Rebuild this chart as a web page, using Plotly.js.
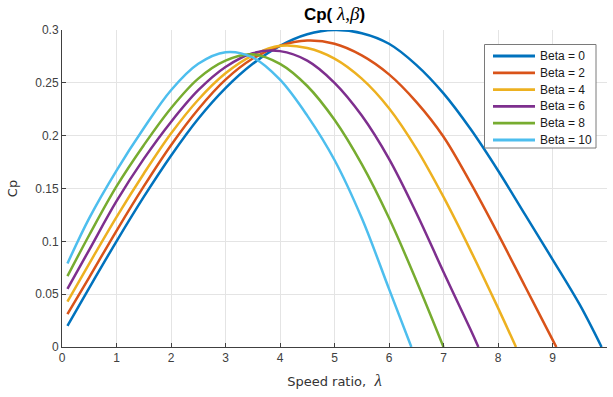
<!DOCTYPE html>
<html>
<head>
<meta charset="utf-8">
<script src="https://cdn.plot.ly/plotly-3.0.1.min.js"></script>
<style>
  html, body { margin: 0; padding: 0; background: #ffffff; }
  #chart { width: 613px; height: 397px; }
</style>
</head>
<body>
<div id="chart"></div>
<script>
// Power coefficient Cp versus tip speed ratio lambda, one curve per pitch angle beta
const seriesNames = ['Beta = 0', 'Beta = 2', 'Beta = 4', 'Beta = 6', 'Beta = 8', 'Beta = 10'];

const lambdaB0 = [0.1, 0.5, 1, 1.5, 2, 2.5, 3, 3.5, 4, 4.5, 5, 5.5, 6, 6.5, 7, 7.5, 8, 8.5, 9, 9.5, 9.9];
const cpB0     = [0.020, 0.056, 0.100, 0.142, 0.181, 0.216, 0.245, 0.268, 0.285, 0.296, 0.300, 0.297, 0.287, 0.267, 0.240, 0.206, 0.167, 0.125, 0.083, 0.040, 0];

const lambdaB2 = [0.1, 0.5, 1, 1.5, 2, 2.5, 3, 3.5, 4, 4.5, 5, 5.5, 6, 6.5, 7, 7.5, 8, 8.5, 9, 9.07];
const cpB2     = [0.031, 0.066, 0.110, 0.152, 0.191, 0.225, 0.253, 0.273, 0.285, 0.290, 0.287, 0.276, 0.258, 0.232, 0.199, 0.155, 0.107, 0.057, 0.007, 0];

const lambdaB4 = [0.1, 0.5, 1, 1.5, 2, 2.5, 3, 3.5, 4, 4.5, 5, 5.5, 6, 6.5, 7, 7.5, 8, 8.33];
const cpB4     = [0.043, 0.079, 0.123, 0.164, 0.202, 0.234, 0.259, 0.276, 0.285, 0.283, 0.273, 0.254, 0.226, 0.188, 0.142, 0.091, 0.037, 0];

const lambdaB6 = [0.1, 0.5, 1, 1.5, 2, 2.5, 3, 3.5, 4, 4.5, 5, 5.5, 6, 6.5, 7, 7.5, 7.64];
const cpB6     = [0.055, 0.092, 0.138, 0.178, 0.213, 0.243, 0.265, 0.278, 0.280, 0.271, 0.250, 0.219, 0.178, 0.127, 0.071, 0.016, 0];

const lambdaB8 = [0.1, 0.5, 1, 1.5, 2, 2.5, 3, 3.5, 4, 4.5, 5, 5.5, 6, 6.5, 7];
const cpB8     = [0.067, 0.106, 0.152, 0.191, 0.226, 0.254, 0.271, 0.277, 0.268, 0.247, 0.215, 0.173, 0.122, 0.063, 0];

const lambdaB10 = [0.1, 0.5, 1, 1.5, 2, 2.5, 3, 3.5, 4, 4.5, 5, 5.5, 6, 6.41];
const cpB10     = [0.079, 0.122, 0.167, 0.207, 0.243, 0.268, 0.279, 0.274, 0.253, 0.219, 0.177, 0.122, 0.055, 0];

const xTickVals = [0, 1, 2, 3, 4, 5, 6, 7, 8, 9, 10];
const yTickVals = [0, 0.05, 0.1, 0.15, 0.2, 0.25, 0.3];
const yTickText = ['0', '0.05', '0.1', '0.15', '0.2', '0.25', '0.3'];

const lineColors = ['#0072BD', '#D95319', '#EDB120', '#7E2F8E', '#77AC30', '#4DBEEE'];

const lambdaSets = [lambdaB0, lambdaB2, lambdaB4, lambdaB6, lambdaB8, lambdaB10];
const cpSets = [cpB0, cpB2, cpB4, cpB6, cpB8, cpB10];

const traces = lambdaSets.map((lx, i) => ({
  type: 'scatter',
  mode: 'lines',
  x: lx,
  y: cpSets[i],
  name: seriesNames[i],
  showlegend: false,
  hoverinfo: 'skip',
  line: { color: lineColors[i], width: 2.5, shape: 'spline', smoothing: 1 }
}));

// Plot box in pixels
const M = { l: 62, r: 6, t: 30, b: 50 };
const W = 613, H = 397;
const plotW = W - M.l - M.r, plotH = H - M.t - M.b;
const px = v => (v - M.l) / plotW;
const py = v => (H - M.b - v) / plotH;

// Hand-built legend box in the upper right
const legShapes = [{
  type: 'rect', xref: 'paper', yref: 'paper',
  x0: px(484.5), x1: px(596), y0: py(148), y1: py(44.5),
  line: { color: '#7a7a7a', width: 1 }, fillcolor: '#ffffff', layer: 'above'
}];
const legAnnots = [];
seriesNames.forEach((name, i) => {
  const yy = 56 + i * 16.8;
  legShapes.push({
    type: 'line', xref: 'paper', yref: 'paper',
    x0: px(493), x1: px(535), y0: py(yy), y1: py(yy),
    line: { color: lineColors[i], width: 2.8 }, layer: 'above'
  });
  legAnnots.push({
    xref: 'paper', yref: 'paper', x: px(537.5), y: py(yy),
    xanchor: 'left', yanchor: 'middle', showarrow: false,
    text: name,
    font: { family: 'Liberation Sans, Arial, sans-serif', size: 12, color: '#1a1a1a' }
  });
});

const tickFont = { family: 'Liberation Sans, Arial, sans-serif', size: 12, color: '#404040' };

const layout = {
  width: W, height: H,
  margin: M,
  paper_bgcolor: '#ffffff',
  plot_bgcolor: '#ffffff',
  showlegend: false,
  title: {
    text: "<b>Cp(</b> <span style='font-family:Liberation Serif, Times New Roman, serif; font-size:19px'><i>λ</i>,<i>β</i></span><b>)</b>",
    font: { family: 'Liberation Sans, Arial, sans-serif', size: 17, color: '#000000' },
    x: 0.5, xref: 'paper', xanchor: 'center',
    y: 1 - 14 / H, yref: 'container', yanchor: 'middle'
  },
  xaxis: {
    range: [0, 10],
    tickvals: xTickVals,
    ticktext: xTickVals.map(String),
    showgrid: true, gridcolor: '#e4e4e4', gridwidth: 1,
    zeroline: false,
    showline: true, linecolor: '#404040', linewidth: 1,
    ticks: 'inside', ticklen: 4, tickcolor: '#404040',
    tickfont: tickFont,
    title: {
      text: "Speed ratio,  <span style='font-family:Liberation Serif, serif; font-size:17px'><i>λ</i></span>",
      font: { family: 'DejaVu Sans, sans-serif', size: 13, color: '#333333' },
      standoff: 12
    }
  },
  yaxis: {
    range: [0, 0.3],
    tickvals: yTickVals,
    ticktext: yTickText,
    showgrid: true, gridcolor: '#e4e4e4', gridwidth: 1,
    zeroline: false,
    showline: true, linecolor: '#404040', linewidth: 1,
    ticks: 'inside', ticklen: 4, tickcolor: '#404040',
    tickfont: tickFont,
    title: {
      text: 'Cp',
      font: { family: 'DejaVu Sans, sans-serif', size: 13, color: '#333333' },
      standoff: 14
    }
  },
  shapes: legShapes,
  annotations: legAnnots
};

Plotly.newPlot('chart', traces, layout, { staticPlot: true, displayModeBar: false });
</script>
</body>
</html>
